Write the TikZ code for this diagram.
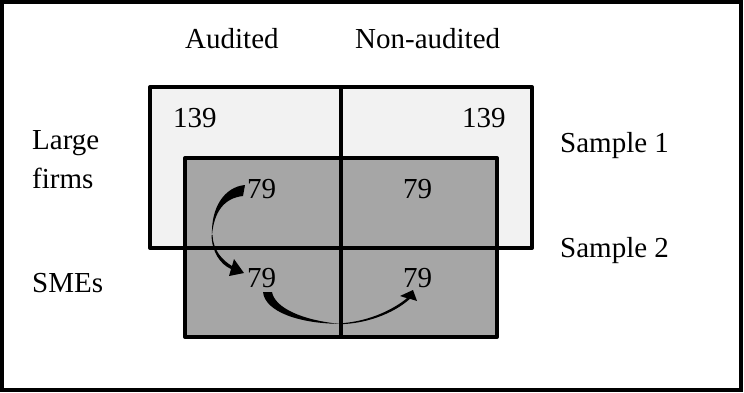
\documentclass[tikz,border=0pt]{standalone}
\usepackage{fontspec}
\setmainfont{Liberation Serif}
\definecolor{lightbox}{HTML}{F2F2F2}
\definecolor{darkbox}{HTML}{A6A6A6}
\begin{document}
\begin{tikzpicture}[x=1pt,y=-1pt,
  lbl/.style={anchor=base west,inner sep=0pt,font=\fontsize{29}{34}\selectfont},
  edge/.style={line width=4pt,line join=round},
  arrowfill/.style={fill=black}]
\useasboundingbox (0,0) rectangle (744,392);
% outer frame
\draw[line width=4pt] (2,2) rectangle (741,390);
% large firms box (fill)
\fill[lightbox] (150,87) rectangle (532,248);
% SME / sample 2 box
\draw[edge,fill=darkbox] (185,158) rectangle (497,337);
% large box border
\draw[edge] (150,87) rectangle (532,248);
% divider
\draw[edge] (341,87) -- (341,337);
% labels
\node[lbl] (aud) at (185,48) {Audited};
\node[lbl] (nonaud) at (355,48) {Non-audited};
\node[lbl] (large) at (32,149) {Large};
\node[lbl] (firms) at (32,188) {firms};
\node[lbl] (smes) at (32,292) {SMEs};
\node[lbl] (s1) at (560,152) {Sample 1};
\node[lbl] (s2) at (560,257) {Sample 2};
\node[lbl] (n1) at (173,127) {139};
\node[lbl] (n2) at (462,127) {139};
\node[lbl] (m1) at (247,198) {79};
\node[lbl] (m2) at (403,198) {79};
\node[lbl] (m3) at (247,287) {79};
\node[lbl] (m4) at (403,287) {79};
% curved arrow 1 (tapered)
\fill[arrowfill] (245,185) .. controls (224,187) and (211,208) .. (212,235)
  .. controls (214,212) and (224,198) .. (243,196) -- cycle;
\fill[arrowfill] (211.5,235) .. controls (212,252) and (220,264) .. (231,269)
  -- (229,276) -- (244,273) -- (234,259) -- (232,266)
  .. controls (222,260) and (213,250) .. (212.5,235) -- cycle;
% curved arrow 2 (tapered)
\fill[arrowfill] (263,292) .. controls (265,312) and (300,323.5) .. (339,323.8)
  .. controls (302,320) and (275,308) .. (272,292) -- cycle;
\fill[arrowfill] (339,324.2) .. controls (365,324) and (393,314) .. (410,298.8)
  -- (417,301) -- (413,290) -- (400,296) -- (407,298.2)
  .. controls (390,312) and (365,322) .. (339,323.4) -- cycle;
\end{tikzpicture}
\end{document}
